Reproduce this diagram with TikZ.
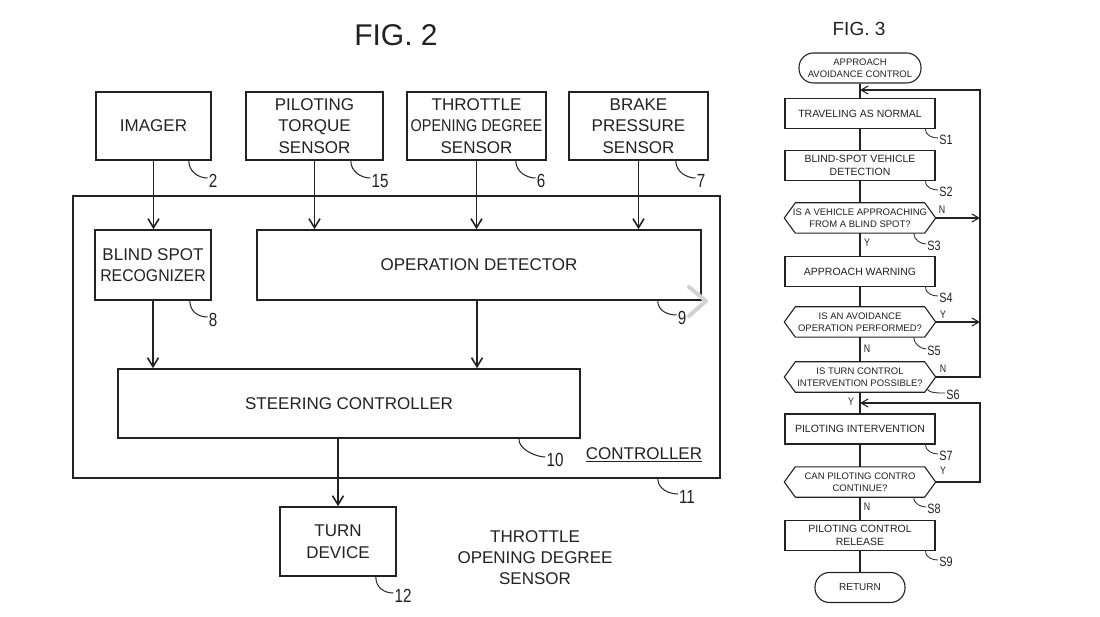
\documentclass[tikz,border=0pt]{standalone}
\usepackage{fontspec}
\setmainfont{Liberation Sans}
\newfontfamily\condfont[FakeStretch=0.8]{Liberation Sans}
\usetikzlibrary{arrows.meta,calc}
\definecolor{ink}{HTML}{222222}
\begin{document}
\begin{tikzpicture}[x=1pt,y=-1pt,
  blk/.style={draw=ink,line width=1.6pt,inner sep=0pt,align=center,text=ink,font=\fontsize{17}{21.5}\selectfont},
  arr/.style={draw=ink,line width=1.6pt,-{Straight Barb[length=9pt,width=11pt]}},
  lead/.style={draw=ink,line width=1pt},
  ref/.style={font=\condfont\fontsize{19}{19}\selectfont,inner sep=1pt,text=ink},
  fbox/.style={draw=ink,line width=1.1pt,minimum width=150pt,minimum height=30pt,inner sep=0pt,align=center,text=ink,font=\fontsize{10.5}{12.5}\selectfont},
  fdec/.style={minimum width=151pt,minimum height=30pt,inner sep=0pt,align=center,text=ink,font=\fontsize{9.5}{11.5}\selectfont},
  fterm/.style={draw=ink,line width=1.1pt,rounded corners=14.5pt,minimum height=30pt,inner sep=0pt,align=center,text=ink,font=\fontsize{9.5}{12}\selectfont},
  fline/.style={draw=ink,line width=1.1pt},
  farr/.style={fline,-{Straight Barb[length=7pt,width=8pt]}},
  flead/.style={draw=ink,line width=0.8pt},
  fref/.style={font=\condfont\fontsize{13.5}{13.5}\selectfont,inner sep=1pt,text=ink},
  yn/.style={font=\condfont\fontsize{11}{11}\selectfont,inner sep=1pt,text=ink}
]
\useasboundingbox[fill=white] (0,0) rectangle (1100,617);

% ---------- FIG. 2 ----------
\node[font=\fontsize{30}{30}\selectfont,text=ink] (fig2) at (396,35) {FIG. 2};

\node[blk,minimum width=115pt,minimum height=68pt] (imager) at (153.5,126) {IMAGER};
\node[blk,minimum width=137pt,minimum height=68pt] (pilot) at (314.5,126) {PILOTING\\TORQUE\\SENSOR};
\node[blk,minimum width=139pt,minimum height=68pt] (throttle) at (476.5,126) {THROTTLE\\\scalebox{0.85}[1]{OPENING DEGREE}\\SENSOR};
\node[blk,minimum width=139pt,minimum height=68pt] (brake) at (638.5,126) {BRAKE\\PRESSURE\\SENSOR};

\node[draw=ink,line width=1.6pt,minimum width=647pt,minimum height=282pt,inner sep=0pt] (ctrl) at (396.5,337) {};

\node[blk,minimum width=116pt,minimum height=70pt] (bsr) at (153,265) {BLIND SPOT\\\scalebox{0.93}[1]{RECOGNIZER}};
\node[blk,minimum width=444pt,minimum height=70pt] (opdet) at (479,265) {OPERATION DETECTOR};
\node[blk,minimum width=462pt,minimum height=69pt] (steer) at (349,403.5) {STEERING CONTROLLER};
\node[blk,minimum width=116pt,minimum height=69pt] (turn) at (338,541.5) {TURN\\DEVICE};

\node[font=\fontsize{17}{20}\selectfont,inner sep=0pt,text=ink] (ctrllbl) at (644,455) {\underline{CONTROLLER}};
\node[font=\fontsize{17}{21}\selectfont,align=center,text=ink] (note) at (535,558) {THROTTLE\\OPENING DEGREE\\SENSOR};

% connectors
\draw[arr] (imager.south) -- (imager.south |- bsr.north);
\draw[arr] (pilot.south) -- (pilot.south |- opdet.north);
\draw[arr] (throttle.south) -- (throttle.south |- opdet.north);
\draw[arr] (brake.south) -- (brake.south |- opdet.north);
\draw[arr] (bsr.south) -- (bsr.south |- steer.north);
\draw[arr] ([xshift=-2pt]opdet.south) -- ([xshift=-2pt]opdet.south |- steer.north);
\draw[arr] (turn.north |- steer.south) -- (turn.north);

% reference numerals
\node[ref] (r2) at (213,181) {2};
\node[ref] (r15) at (380,181) {15};
\node[ref] (r6) at (541,181) {6};
\node[ref] (r7) at (701,181) {7};
\node[ref] (r8) at (213,320) {8};
\node[ref] (r9) at (682,318) {9};
\node[ref] (r10) at (555,460) {10};
\node[ref] (r11) at (687,497) {11};
\node[ref] (r12) at (403,596) {12};

\draw[lead] ([xshift=-23pt]imager.south east) .. controls +(0,11) and +(-9,0) .. ([yshift=3pt]r2.west);
\draw[lead] ([xshift=-33pt]pilot.south east) .. controls +(0,11) and +(-9,0) .. ([yshift=3pt]r15.west);
\draw[lead] ([xshift=-31pt]throttle.south east) .. controls +(0,11) and +(-9,0) .. ([yshift=3pt]r6.west);
\draw[lead] ([xshift=-33pt]brake.south east) .. controls +(0,11) and +(-9,0) .. ([yshift=3pt]r7.west);
\draw[lead] ([xshift=-22pt]bsr.south east) .. controls +(0,11) and +(-9,0) .. ([yshift=3pt]r8.west);
\draw[lead] ([xshift=-44pt]opdet.south east) .. controls +(0,10) and +(-9,0) .. ([yshift=3pt]r9.west);
\draw[lead] ([xshift=-62pt]steer.south east) .. controls +(0,11) and +(-9,0) .. ([yshift=3pt]r10.west);
\draw[lead] ([xshift=-63pt]ctrl.south east) .. controls +(0,10) and +(-9,0) .. ([yshift=3pt]r11.west);
\draw[lead] ([xshift=-21pt]turn.south east) .. controls +(0,11) and +(-9,0) .. ([yshift=3pt]r12.west);

% overlay chevron
\draw[gray!35,line width=4pt,line cap=round,line join=round] (689,287) -- (706,301) -- (689,316);

% ---------- FIG. 3 ----------
\node[font=\fontsize{19}{19}\selectfont,text=ink] (fig3) at (859,29) {FIG. 3};
\node[fterm,minimum width=122pt] (start) at (860,68) {APPROACH\\AVOIDANCE CONTROL};
\node[fbox] (s1) at (860,113.5) {TRAVELING AS NORMAL};
\node[fbox] (s2) at (860,165.5) {BLIND-SPOT VEHICLE\\DETECTION};
\node[fdec] (s3) at (860,218) {IS A VEHICLE APPROACHING\\FROM A BLIND SPOT?};
\node[fbox] (s4) at (860,271.5) {APPROACH WARNING};
\node[fdec] (s5) at (860,322) {IS AN AVOIDANCE\\OPERATION PERFORMED?};
\node[fdec] (s6) at (860,377) {IS TURN CONTROL\\INTERVENTION POSSIBLE?};
\node[fbox] (s7) at (860,429) {PILOTING INTERVENTION};
\node[fdec] (s8) at (860,482) {CAN PILOTING CONTRO\\CONTINUE?};
\node[fbox] (s9) at (860,535.5) {PILOTING CONTROL\\RELEASE};
\node[fterm,minimum width=90pt,font=\fontsize{10}{12}\selectfont] (ret) at (860,587.5) {RETURN};

\foreach \n in {s3,s5,s6,s8}
  \draw[fline] (\n.west) -- ([xshift=11pt]\n.north west) -- ([xshift=-11pt]\n.north east)
    -- (\n.east) -- ([xshift=-11pt]\n.south east) -- ([xshift=11pt]\n.south west) -- cycle;

\draw[fline] (start) -- (s1);
\draw[fline] (s1) -- (s2);
\draw[fline] (s2) -- (s3);
\draw[fline] (s3) -- (s4);
\draw[fline] (s4) -- (s5);
\draw[fline] (s5) -- (s6);
\draw[fline] (s6) -- (s7);
\draw[fline] (s7) -- (s8);
\draw[fline] (s8) -- (s9);
\draw[fline] (s9) -- (ret);

\coordinate (c1) at (980,90);
\coordinate (c2) at (980,403);
\draw[farr] (s6.east) -| (c1) -- (c1 -| start.south);
\draw[farr] (s3.east) -- (s3.east -| c1);
\draw[farr] (s5.east) -- (s5.east -| c1);
\draw[farr] (s8.east) -| (c2) -- (c2 -| s7.north);

\node[yn] (n3) at (942,210) {N};
\node[yn] (y3) at (867,243) {Y};
\node[yn] (y5) at (943,315) {Y};
\node[yn] (n5) at (867,349) {N};
\node[yn] (n6) at (943,369) {N};
\node[yn] (y6) at (851,402) {Y};
\node[yn] (y8) at (943,471) {Y};
\node[yn] (n8) at (867,507) {N};

\node[fref] (f1) at (946,140) {S1};
\node[fref] (f2) at (946,192) {S2};
\node[fref] (f3) at (934,246) {S3};
\node[fref] (f4) at (946,298) {S4};
\node[fref] (f5) at (934,351) {S5};
\node[fref] (f6) at (953,395) {S6};
\node[fref] (f7) at (946,456) {S7};
\node[fref] (f8) at (934,509) {S8};
\node[fref] (f9) at (946,562) {S9};

\draw[flead] ([xshift=-10pt]s1.south east) .. controls +(0,7) and +(-5,0) .. ([yshift=2pt]f1.west);
\draw[flead] ([xshift=-10pt]s2.south east) .. controls +(0,7) and +(-5,0) .. ([yshift=2pt]f2.west);
\draw[flead] ([xshift=-22pt]s3.south east) .. controls +(0,7) and +(-5,0) .. ([yshift=2pt]f3.west);
\draw[flead] ([xshift=-10pt]s4.south east) .. controls +(0,7) and +(-5,0) .. ([yshift=2pt]f4.west);
\draw[flead] ([xshift=-22pt]s5.south east) .. controls +(0,7) and +(-5,0) .. ([yshift=2pt]f5.west);
\draw[flead] ($(s6.east)!0.75!([xshift=-11pt]s6.south east)$) .. controls +(0,5) and +(-5,0) .. ([yshift=2pt]f6.west);
\draw[flead] ([xshift=-10pt]s7.south east) .. controls +(0,7) and +(-5,0) .. ([yshift=2pt]f7.west);
\draw[flead] ([xshift=-22pt]s8.south east) .. controls +(0,7) and +(-5,0) .. ([yshift=2pt]f8.west);
\draw[flead] ([xshift=-10pt]s9.south east) .. controls +(0,7) and +(-5,0) .. ([yshift=2pt]f9.west);
\end{tikzpicture}
\end{document}
